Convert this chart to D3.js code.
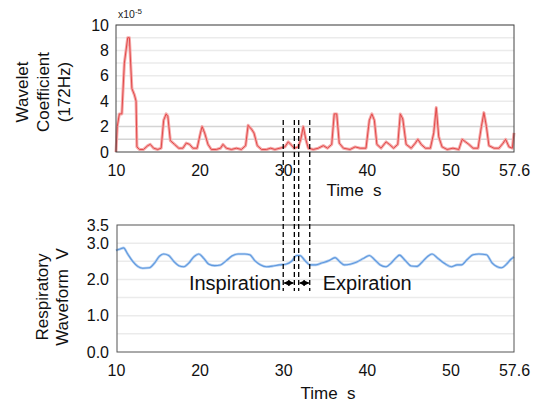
<!DOCTYPE html>
<html>
<head>
<meta charset="utf-8">
<script src="https://cdn.jsdelivr.net/npm/d3@7"></script>
<style>
  body { margin: 0; background: #fff; }
  svg { font-family: "Liberation Sans", Arial, sans-serif; }
</style>
</head>
<body>
<div id="chart"></div>
<script>
// wavelet coefficient (x1e-5) at 172Hz
const waveletTime = [10.0,10.15,10.4,10.7,11.0,11.4,11.6,11.9,12.2,12.4,12.5,12.8,13.3,13.8,14.1,14.5,15.0,15.4,15.7,16.0,16.2,16.5,17.0,17.5,18.0,18.4,18.8,19.2,19.7,20.1,20.3,20.6,21.0,21.4,22.0,22.5,22.8,23.2,23.8,24.4,25.0,25.5,25.8,26.2,26.5,26.9,27.4,28.0,28.5,29.0,29.6,30.2,30.6,30.9,31.3,31.8,32.1,32.4,32.7,33.0,33.6,34.2,34.8,35.3,35.8,36.1,36.4,36.7,37.2,38.0,38.6,39.2,39.9,40.3,40.6,40.9,41.2,41.7,42.3,42.7,43.2,43.7,44.0,44.3,44.7,45.3,45.8,46.1,46.5,47.0,47.6,48.0,48.3,48.6,49.0,49.6,50.3,51.0,51.4,51.8,52.2,52.7,53.3,53.7,54.0,54.3,54.6,55.2,55.8,56.3,56.6,57.0,57.4,57.6];
const waveletValue = [0,2.0,3.0,3.0,7.0,9.0,9.0,5.0,4.5,4.0,0.4,0.2,0.2,0.5,0.6,0.3,0.2,0.3,2.5,3.0,2.8,0.9,0.6,0.3,0.3,0.7,0.6,0.3,0.3,1.5,2.0,1.5,0.6,0.2,0.2,0.3,0.6,0.3,0.2,0.3,0.2,0.5,2.1,1.8,1.5,0.5,0.2,0.2,0.3,0.2,0.3,0.4,0.8,0.6,0.3,0.4,1.0,2.0,1.0,0.3,0.2,0.3,0.5,0.3,0.6,3.0,3.0,0.7,0.3,0.2,0.4,0.3,0.3,2.5,3.0,2.5,0.6,0.3,0.8,0.6,0.3,0.6,3.0,2.6,0.6,0.3,0.7,1.0,0.6,0.3,0.3,1.5,3.5,1.2,0.4,0.2,0.3,0.2,1.0,0.8,0.6,0.3,0.3,2.0,3.1,2.0,0.5,0.3,0.3,0.7,1.0,0.4,0.3,1.5];

// respiratory waveform (V)
const respTime = [10.0,10.5,10.9,11.4,12.0,12.6,13.2,14.0,14.6,15.2,15.7,16.3,16.9,17.5,18.1,18.7,19.3,19.9,20.5,21.1,21.8,22.5,23.2,23.9,24.6,25.4,26.0,26.6,27.3,28.0,28.8,29.5,30.3,31.0,31.6,32.0,32.6,33.2,33.9,34.6,35.5,36.2,36.8,37.3,38.0,38.8,39.6,40.3,40.9,41.6,42.3,42.9,43.5,43.9,44.6,45.3,46.0,46.7,47.3,47.8,48.5,49.3,50.1,50.8,51.3,52.0,52.7,53.4,54.3,55.0,55.6,56.1,56.7,57.2,57.6];
const respValue = [2.80,2.84,2.87,2.70,2.50,2.36,2.31,2.32,2.45,2.64,2.70,2.66,2.50,2.38,2.35,2.45,2.62,2.70,2.58,2.42,2.38,2.40,2.52,2.65,2.70,2.70,2.68,2.52,2.40,2.35,2.37,2.40,2.42,2.50,2.66,2.66,2.52,2.40,2.40,2.45,2.52,2.60,2.48,2.40,2.42,2.48,2.58,2.66,2.55,2.40,2.35,2.45,2.60,2.67,2.52,2.37,2.36,2.50,2.64,2.70,2.58,2.44,2.35,2.40,2.40,2.55,2.68,2.70,2.68,2.45,2.35,2.32,2.42,2.55,2.62];

const xTicks = [10, 20, 30, 40, 50, 57.6];
const topYTicks = [0, 2, 4, 6, 8, 10];
const botYTicks = [0, 1, 2, 3, 3.5];
// inspiration / expiration markers (s)
const markerTimes = [30.0, 31.33, 31.85, 33.17];

const width = 535, height = 403;
const left = 116, right = 514;

const svg = d3.select("#chart").append("svg")
    .attr("width", width)
    .attr("height", height);

const x = d3.scaleLinear().domain([10, 57.6]).range([left, right]);
const yTop = d3.scaleLinear().domain([0, 10]).range([152, 25]);
const yBot = d3.scaleLinear().domain([0, 3.5]).range([352, 225]);

// ---------- top panel ----------
let gTop = svg.append("g");
gTop.selectAll(".grid").data(d3.range(1, 11))
    .enter().append("line")
    .attr("x1", left).attr("x2", right)
    .attr("y1", d => yTop(d)).attr("y2", d => yTop(d))
    .attr("stroke", d => d <= 2 ? "#d4d4d4" : "#ebebeb")
    .attr("stroke-width", 1.5);

let waveLine = d3.line().x(d => x(d[0])).y(d => yTop(d[1]));
let waveData = waveletTime.map((t, i) => [t, waveletValue[i]]);
gTop.append("path")
    .datum(waveData)
    .attr("fill", "none")
    .attr("stroke", "#f5aaaa")
    .attr("stroke-width", 3)
    .attr("stroke-linejoin", "round")
    .attr("d", waveLine);
gTop.append("path")
    .datum(waveData)
    .attr("fill", "none")
    .attr("stroke", "#e24a4a")
    .attr("stroke-width", 1)
    .attr("stroke-linejoin", "round")
    .attr("d", waveLine);

gTop.append("rect")
    .attr("x", left).attr("y", 25)
    .attr("width", right - left).attr("height", 127)
    .attr("fill", "none").attr("stroke", "#444").attr("stroke-width", 1);

let xAxisTop = gTop.append("g")
    .attr("transform", "translate(0,152)")
    .call(d3.axisBottom(x).tickValues(xTicks).tickSize(0).tickPadding(13).tickFormat(d => d));
let yAxisTop = gTop.append("g")
    .attr("transform", "translate(" + left + ",0)")
    .call(d3.axisLeft(yTop).tickValues(topYTicks).tickSize(0).tickPadding(7));
[xAxisTop, yAxisTop].forEach(a => {
    a.select(".domain").remove();
    a.selectAll("text").style("font-size", "16px").attr("fill", "#111")
        .style("font-family", "'Liberation Sans', Arial, sans-serif");
});

let expo = gTop.append("text").attr("x", 118).attr("y", 18)
    .style("font-size", "10.5px").attr("fill", "#222");
expo.append("tspan").text("x10");
expo.append("tspan").attr("dy", -4).style("font-size", "8px").text("-5");

gTop.append("text")
    .attr("transform", "translate(" + 49 + "," + 92 + ") rotate(-90)")
    .attr("text-anchor", "middle")
    .style("font-size", "17px").attr("fill", "#111")
    .selectAll("tspan").data(["Wavelet", "Coefficient", "(172Hz)"])
    .enter().append("tspan")
    .attr("x", 0)
    .attr("dy", (d, i) => i === 0 ? "-1.25em" : "1.25em")
    .text(d => d);

gTop.append("text")
    .attr("x", 354).attr("y", 196)
    .attr("text-anchor", "middle")
    .style("font-size", "17px").attr("fill", "#111")
    .attr("xml:space", "preserve")
    .text("Time  s");

// ---------- bottom panel ----------
let gBot = svg.append("g");
gBot.selectAll(".grid").data([0.5, 1, 1.5, 2, 2.5, 3])
    .enter().append("line")
    .attr("x1", left + 1).attr("x2", right)
    .attr("y1", d => yBot(d)).attr("y2", d => yBot(d))
    .attr("stroke", "#ebebeb")
    .attr("stroke-width", 1.5);

let respLine = d3.line().curve(d3.curveMonotoneX).x(d => x(d[0])).y(d => yBot(d[1]));
let respData = respTime.map((t, i) => [t, respValue[i]]);
gBot.append("path")
    .datum(respData)
    .attr("fill", "none")
    .attr("stroke", "#b3d0f2")
    .attr("stroke-width", 2.6)
    .attr("d", respLine);
gBot.append("path")
    .datum(respData)
    .attr("fill", "none")
    .attr("stroke", "#5f98de")
    .attr("stroke-width", 1.1)
    .attr("d", respLine);

gBot.append("rect")
    .attr("x", left + 1).attr("y", 225)
    .attr("width", right - left - 1).attr("height", 127)
    .attr("fill", "none").attr("stroke", "#555").attr("stroke-width", 1);

let xAxisBot = gBot.append("g")
    .attr("transform", "translate(0,352)")
    .call(d3.axisBottom(x).tickValues(xTicks).tickSize(0).tickPadding(13).tickFormat(d => d));
let yAxisBot = gBot.append("g")
    .attr("transform", "translate(" + left + ",0)")
    .call(d3.axisLeft(yBot).tickValues(botYTicks).tickSize(0).tickPadding(7).tickFormat(d3.format(".1f")));
[xAxisBot, yAxisBot].forEach(a => {
    a.select(".domain").remove();
    a.selectAll("text").style("font-size", "16px").attr("fill", "#111")
        .style("font-family", "'Liberation Sans', Arial, sans-serif");
});

gBot.append("text")
    .attr("transform", "translate(" + 53 + "," + 297 + ") rotate(-90)")
    .attr("text-anchor", "middle")
    .style("font-size", "17px").attr("fill", "#111")
    .selectAll("tspan").data(["Respiratory", "Waveform  V"])
    .enter().append("tspan")
    .attr("x", 0)
    .attr("xml:space", "preserve")
    .attr("dy", (d, i) => i === 0 ? "-0.3em" : "1.2em")
    .text(d => d);

gBot.append("text")
    .attr("x", 328).attr("y", 399)
    .attr("text-anchor", "middle")
    .style("font-size", "17px").attr("fill", "#111")
    .attr("xml:space", "preserve")
    .text("Time  s");

// ---------- markers ----------
svg.selectAll(".marker").data(markerTimes)
    .enter().append("line")
    .attr("x1", d => x(d)).attr("x2", d => x(d))
    .attr("y1", 120).attr("y2", 291)
    .attr("stroke", "#000").attr("stroke-width", 1.3)
    .attr("stroke-dasharray", "5,3");

svg.append("defs").append("marker")
    .attr("id", "head")
    .attr("viewBox", "0 0 10 10")
    .attr("refX", 9).attr("refY", 5)
    .attr("markerWidth", 5).attr("markerHeight", 5)
    .attr("orient", "auto-start-reverse")
    .append("path").attr("d", "M0,0 L10,5 L0,10 Z").attr("fill", "#000");

[[markerTimes[0], markerTimes[1]], [markerTimes[2], markerTimes[3]]].forEach(p => {
    svg.append("line")
        .attr("x1", x(p[0]) + 1).attr("x2", x(p[1]) - 1)
        .attr("y1", 283).attr("y2", 283)
        .attr("stroke", "#000").attr("stroke-width", 1.2)
        .attr("marker-start", "url(#head)")
        .attr("marker-end", "url(#head)");
});

svg.append("text")
    .attr("x", x(markerTimes[0]) - 2).attr("y", 290)
    .attr("text-anchor", "end")
    .style("font-size", "20px").attr("fill", "#111")
    .text("Inspiration");
svg.append("text")
    .attr("x", x(markerTimes[3]) + 13).attr("y", 290)
    .style("font-size", "20px").attr("fill", "#111")
    .text("Expiration");
</script>
</body>
</html>
